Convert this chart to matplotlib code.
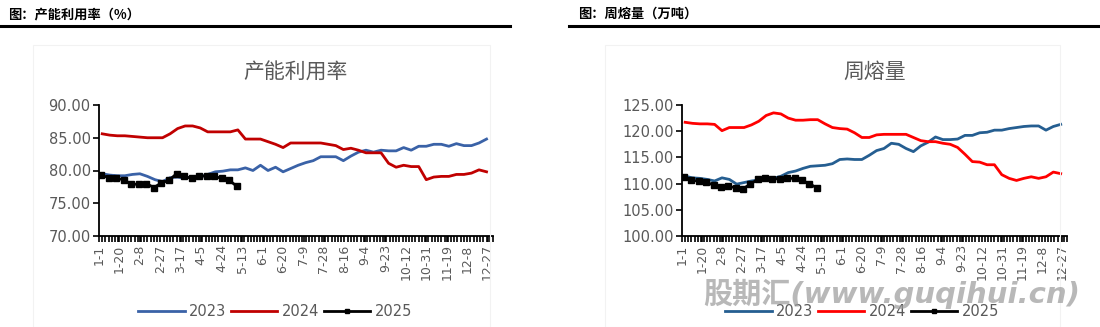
import numpy as np
import matplotlib.pyplot as plt
from matplotlib.patches import Rectangle

plt.rcParams['font.family'] = ['DejaVu Sans', 'Noto Sans CJK SC']
plt.rcParams['axes.unicode_minus'] = False

# x-axis labels (every 19 days over a 366-day year)
tick_labels = ['1-1', '1-20', '2-8', '2-27', '3-17', '4-5', '4-24', '5-13', '6-1', '6-20',
               '7-9', '7-28', '8-16', '9-4', '9-23', '10-12', '10-31', '11-19', '12-8', '12-27']

# capacity utilisation (%), weekly
util_2023 = [79.5, 79.3, 79.2, 79.2, 79.4, 79.5, 79.1, 78.6, 78.3, 78.9, 79.0, 78.8, 79.1,
             79.0, 79.4, 79.8, 79.9, 80.1, 80.1, 80.4, 80.0, 80.8, 80.0, 80.5, 79.8, 80.3,
             80.8, 81.2, 81.5, 82.1, 82.1, 82.1, 81.5, 82.2, 82.8, 83.1, 82.8, 83.1, 83.0,
             83.0, 83.5, 83.1, 83.7, 83.7, 84.0, 84.0, 83.7, 84.1, 83.8, 83.8, 84.2, 84.8]
util_2024 = [85.6, 85.4, 85.3, 85.3, 85.2, 85.1, 85.0, 85.0, 85.0, 85.6, 86.4, 86.8, 86.8,
             86.5, 85.9, 85.9, 85.9, 85.9, 86.2, 84.8, 84.8, 84.8, 84.4, 84.0, 83.5, 84.2,
             84.2, 84.2, 84.2, 84.2, 84.0, 83.8, 83.2, 83.4, 83.1, 82.7, 82.7, 82.7, 81.1,
             80.5, 80.8, 80.6, 80.6, 78.6, 79.0, 79.1, 79.1, 79.4, 79.4, 79.6, 80.1, 79.8]
util_2025 = [79.3, 78.9, 78.8, 78.6, 77.9, 77.9, 78.0, 77.4, 78.1, 78.5, 79.5, 79.1, 78.8,
             79.1, 79.2, 79.1, 78.8, 78.5, 77.6]

# weekly melt volume (10k t)
melt_2023 = [111.4, 111.1, 111.0, 110.8, 110.5, 111.1, 110.8, 109.9, 110.2, 110.5, 110.7,
             111.0, 111.0, 111.4, 112.1, 112.4, 112.9, 113.3, 113.4, 113.5, 113.8, 114.6,
             114.7, 114.6, 114.6, 115.4, 116.3, 116.7, 117.7, 117.5, 116.7, 116.1, 117.2,
             117.9, 118.9, 118.4, 118.4, 118.5, 119.2, 119.2, 119.7, 119.8, 120.2, 120.2,
             120.5, 120.7, 120.9, 121.0, 121.0, 120.2, 120.9, 121.3]
melt_2024 = [121.7, 121.5, 121.4, 121.4, 121.3, 120.1, 120.7, 120.7, 120.7, 121.2, 121.9,
             123.0, 123.5, 123.3, 122.5, 122.1, 122.1, 122.2, 122.2, 121.4, 120.7, 120.5,
             120.4, 119.7, 118.8, 118.8, 119.3, 119.4, 119.4, 119.4, 119.4, 118.8, 118.2,
             118.0, 118.0, 117.7, 117.5, 116.9, 115.6, 114.2, 114.1, 113.6, 113.6, 111.7,
             111.0, 110.6, 111.0, 111.3, 111.0, 111.3, 112.2, 111.9]
melt_2025 = [111.2, 110.6, 110.5, 110.3, 109.7, 109.4, 109.5, 109.2, 109.0, 109.9, 110.8,
             111.1, 110.9, 110.9, 111.0, 111.0, 110.6, 110.0, 109.2]

grey = '#595959'


def week_days(values, start):
    return start + 7 * np.arange(len(values))


def draw_panel(ax, series, colors, ylim, title):
    for (vals, start, marker), c in zip(series, colors):
        ax.plot(week_days(vals, start), vals, color=c, lw=2, marker=marker,
                ms=4 if marker else 0, solid_joinstyle='round')
    ax.set_xlim(0, 366)
    ax.set_ylim(*ylim)
    ax.set_yticks(np.arange(ylim[0], ylim[1] + 0.1, 5))
    ax.yaxis.set_major_formatter(plt.FormatStrFormatter('%.2f'))
    ax.set_xticks(np.arange(len(tick_labels)) * 19)
    ax.set_xticklabels(tick_labels, rotation=90)
    ax.set_xticks(np.arange(0, 367, 3), minor=True)
    for s in ['top', 'right']:
        ax.spines[s].set_visible(False)
    for s in ['left', 'bottom']:
        ax.spines[s].set_linewidth(1.3)
    ax.tick_params(axis='y', labelsize=10.5, labelcolor=grey, length=4, width=1.2, pad=2)
    ax.tick_params(axis='x', which='both', labelsize=9, labelcolor=grey, length=4, width=1.2, pad=2)
    ax.text(0.5, 1.25, title, transform=ax.transAxes, ha='center', va='center',
            fontsize=15, color=grey, family='Noto Sans CJK SC')


fig = plt.figure(figsize=(11, 3.27), dpi=100)

# section headers and rules
fig.text(8 / 1100, 1 - 14 / 327, '图：产能利用率（%）', fontsize=9.5, fontweight='bold',
         family='Noto Sans CJK SC', va='center')
fig.text(578 / 1100, 1 - 14 / 327, '图：周熔量（万吨）', fontsize=9.5, fontweight='bold',
         family='Noto Sans CJK SC', va='center')
fig.add_artist(plt.Line2D([0, 510 / 1100], [1 - 26 / 327] * 2, color='black', lw=2.2))
fig.add_artist(plt.Line2D([569 / 1100, 1], [1 - 26 / 327] * 2, color='black', lw=2.2))

# faint chart frames
fig.add_artist(Rectangle((33 / 1100, 0.0), 457 / 1100, 1 - 45 / 327, transform=fig.transFigure,
                         fill=False, ec='#f2f2f2', lw=0.8))
fig.add_artist(Rectangle((605 / 1100, 0.0), 455 / 1100, 1 - 45 / 327, transform=fig.transFigure,
                         fill=False, ec='#f2f2f2', lw=0.8))

ax1 = fig.add_axes([99 / 1100, 1 - 236 / 327, 394 / 1100, 131 / 327])
draw_panel(ax1, [(util_2023, 3, None), (util_2024, 3, None), (util_2025, 2, 's')],
           ['#3A62A7', '#C00000', 'black'], (70, 90), '产能利用率')

ax2 = fig.add_axes([682 / 1100, 1 - 236 / 327, 385 / 1100, 131 / 327])
draw_panel(ax2, [(melt_2023, 3, None), (melt_2024, 3, None), (melt_2025, 2, 's')],
           ['#255E91', '#FF0000', 'black'], (100, 125), '周熔量')

for ax, cx in [(ax1, 275 / 1100), (ax2, 862 / 1100)]:
    fig.legend(ax.get_lines(), ['2023', '2024', '2025'], loc='center',
               bbox_to_anchor=(cx, 1 - 312 / 327), ncol=3, frameon=False,
               fontsize=10.5, labelcolor=grey, handlelength=3.2, handletextpad=0.3,
               columnspacing=0.3, markerscale=0.8)

# site watermark
fig.text(892 / 1100, 1 - 294 / 327, '股期汇(www.guqihui.cn)', fontsize=21, fontweight='bold',
         style='italic', color='#9a9a9a', alpha=0.7, ha='center', va='center', zorder=10)

fig.savefig('out.png', dpi=100)
